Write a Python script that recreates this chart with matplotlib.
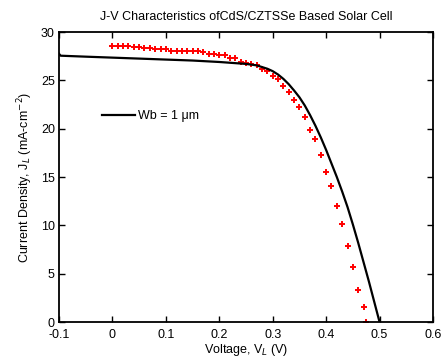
import matplotlib
matplotlib.use("Agg")
import matplotlib.pyplot as plt

# Simulated curve (black line)
v_sim = [-0.1, -0.097, -0.05, 0.0, 0.05, 0.10, 0.15, 0.20, 0.25, 0.27, 0.29, 0.30,
         0.31, 0.32, 0.33, 0.34, 0.35, 0.36, 0.37, 0.38, 0.39, 0.40, 0.41, 0.42,
         0.43, 0.44, 0.45, 0.46, 0.47, 0.48, 0.49, 0.50]
j_sim = [27.75, 27.55, 27.45, 27.35, 27.25, 27.15, 27.05, 26.9, 26.7, 26.55, 26.2, 25.95,
         25.6, 25.15, 24.6, 23.95, 23.25, 22.4, 21.4, 20.3, 19.1, 17.8, 16.4, 15.0,
         13.5, 11.9, 10.1, 8.2, 6.2, 4.2, 2.1, 0.0]

# Experimental points (red)
v_exp = [0.00, 0.01, 0.02, 0.03, 0.04, 0.05, 0.06, 0.07, 0.08, 0.09, 0.10, 0.11,
         0.12, 0.13, 0.14, 0.15, 0.16, 0.17, 0.18, 0.19, 0.20, 0.21, 0.22, 0.23,
         0.24, 0.25, 0.26, 0.27, 0.28, 0.29, 0.30, 0.31, 0.32, 0.33, 0.34, 0.35,
         0.36, 0.37, 0.38, 0.39, 0.40, 0.41, 0.42, 0.43, 0.44, 0.45, 0.46, 0.47, 0.475]
j_exp = [28.6, 28.6, 28.6, 28.6, 28.4, 28.4, 28.35, 28.35, 28.2, 28.2, 28.2, 28.05,
         28.05, 28.05, 28.05, 28.05, 28.05, 27.95, 27.75, 27.75, 27.6, 27.6, 27.3, 27.3,
         26.95, 26.8, 26.7, 26.6, 26.2, 25.95, 25.5, 25.1, 24.4, 23.75, 23.0, 22.2,
         21.2, 19.9, 18.9, 17.3, 15.5, 14.1, 12.0, 10.1, 7.9, 5.7, 3.3, 1.6, 0.0]

xticks = [-0.1, 0, 0.1, 0.2, 0.3, 0.4, 0.5, 0.6]
xticklabels = ["-0.1", "0", "0.1", "0.2", "0.3", "0.4", "0.5", "0.6"]
yticks = [0, 5, 10, 15, 20, 25, 30]

plt.rcParams['font.family'] = ['Liberation Sans', 'DejaVu Sans']

fig = plt.figure(figsize=(4.42, 3.63), dpi=100)
ax = fig.add_axes([0.1335, 0.1129, 0.8461, 0.7989])

ax.plot(v_sim, j_sim, color='black', lw=1.6, label='Wb = 1 \u03bcm', zorder=3)
ax.plot(v_exp, j_exp, linestyle='none', marker='+', ms=4, mew=1.4, color='red', zorder=2)

ax.set_xlim(-0.1, 0.6)
ax.set_ylim(0, 30)
ax.set_xticks(xticks)
ax.set_xticklabels(xticklabels)
ax.set_yticks(yticks)
ax.tick_params(direction='in', top=True, right=True, length=4, width=1.0,
               labelsize=9, pad=3)
ax.tick_params(axis='x', pad=5)
for s in ax.spines.values():
    s.set_linewidth(1.3)

ax.set_title("J-V Characteristics ofCdS/CZTSSe Based Solar Cell", fontsize=9, pad=9)
ax.set_xlabel("Voltage, V$_L$ (V)", fontsize=9, labelpad=1)
ax.set_ylabel("Current Density, J$_L$ (mA-cm$^{-2}$)", fontsize=9, labelpad=4)

ax.legend(loc='center left', bbox_to_anchor=(0.085, 0.71), frameon=False, fontsize=9,
          handlelength=2.6, handletextpad=0.3)

fig.savefig("out.png", dpi=100)
